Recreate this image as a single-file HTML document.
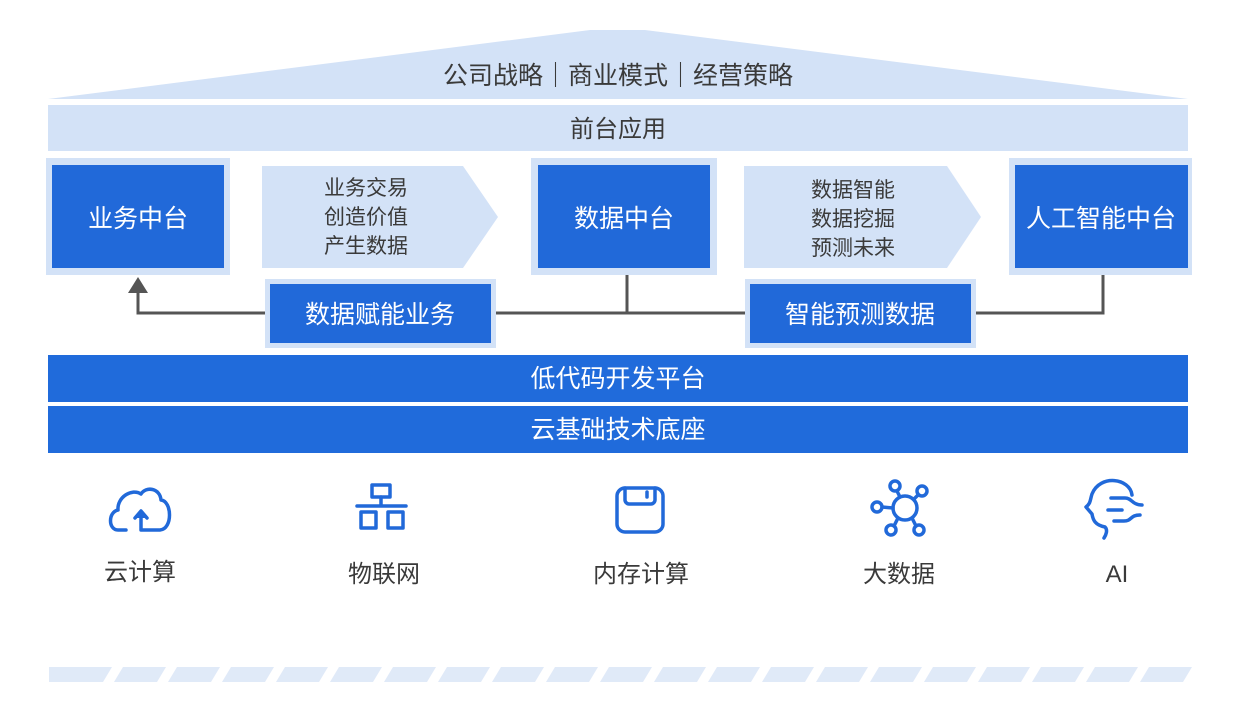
<!DOCTYPE html>
<html><head><meta charset="utf-8"><style>
html,body{margin:0;padding:0;background:#fff}
svg text{font-family:"Liberation Sans","Noto Sans CJK SC",sans-serif}
</style></head><body>
<svg width="1243" height="716" viewBox="0 0 1243 716" xmlns="http://www.w3.org/2000/svg">
<polygon points="48,99 590,30 645,30 1188,99" fill="#d3e2f7"/>
<text x="618" y="84" font-size="25" fill="#3a3a3a" text-anchor="middle">公司战略｜商业模式｜经营策略</text>
<rect x="48" y="105" width="1140" height="46" fill="#d3e2f7"/>
<text x="618" y="137" font-size="24" fill="#3a3a3a" text-anchor="middle">前台应用</text>

<g fill="#d3e2f7">
<rect x="46" y="158" width="184" height="117"/>
<rect x="531" y="158" width="186" height="117"/>
<rect x="1009" y="158" width="183" height="117"/>
<polygon points="262,166 463,166 498,217 463,268 262,268"/>
<polygon points="744,166 947,166 981,217 947,268 744,268"/>
<rect x="265" y="279" width="231" height="69"/>
<rect x="745" y="279" width="231" height="69"/>
</g>
<g fill="#2169d9">
<rect x="52" y="165" width="172" height="103"/>
<rect x="538" y="165" width="172" height="103"/>
<rect x="1015" y="165" width="173" height="103"/>
<rect x="270" y="284" width="221" height="59"/>
<rect x="750" y="284" width="221" height="59"/>
</g>
<g fill="#fff" font-size="25" text-anchor="middle">
<text x="138" y="227">业务中台</text>
<text x="624" y="227">数据中台</text>
<text x="1101" y="227">人工智能中台</text>
<text x="380" y="323">数据赋能业务</text>
<text x="860" y="323">智能预测数据</text>
</g>
<g fill="#3a3a3a" font-size="21" text-anchor="middle">
<text x="366" y="195">业务交易</text>
<text x="366" y="224">创造价值</text>
<text x="366" y="253">产生数据</text>
<text x="853" y="197">数据智能</text>
<text x="853" y="226">数据挖掘</text>
<text x="853" y="255">预测未来</text>
</g>
<g stroke="#555" stroke-width="3" fill="none">
<polyline points="138,292 138,313 265,313"/>
<line x1="496" y1="313" x2="745" y2="313"/>
<line x1="627" y1="275" x2="627" y2="313"/>
<polyline points="976,313 1103,313 1103,275"/>
</g>
<polygon points="128,293 148,293 138,277" fill="#555"/>

<rect x="48" y="355" width="1140" height="47" fill="#206bdb"/>
<rect x="48" y="406" width="1140" height="47" fill="#206bdb"/>
<text x="618" y="387" font-size="25" fill="#fff" text-anchor="middle">低代码开发平台</text>
<text x="618" y="438" font-size="25" fill="#fff" text-anchor="middle">云基础技术底座</text>

<g stroke="#2169d9" stroke-width="3.5" fill="none" stroke-linecap="round" stroke-linejoin="round">
<path d="M126,530 L118,530 C108,530 108,512 118,510 C117,497 132,488 141,494 C146,486 160,488 161,500 C172,501 173,529 160,530 L141,530 L141,514"/>
<path d="M135,518 L141,511 L147,518" fill="#2169d9"/>
<rect x="372" y="485" width="18" height="12"/>
<line x1="381" y1="497" x2="381" y2="505"/>
<line x1="357" y1="506" x2="406" y2="506"/>
<rect x="361" y="512" width="15" height="16"/>
<rect x="388" y="512" width="15" height="16"/>
<rect x="617" y="488" width="46" height="44" rx="8"/>
<path d="M625,488 L625,500 C625,502 627,504 629,504 L651,504 C653,504 655,502 655,500 L655,488"/>
<line x1="647" y1="492" x2="647" y2="497"/>
<circle cx="905" cy="508" r="12"/>
<circle cx="895" cy="486" r="5"/><circle cx="922" cy="491" r="5"/>
<circle cx="877" cy="507" r="5"/><circle cx="891" cy="530" r="5"/><circle cx="919" cy="530" r="5"/>
<line x1="897" y1="491" x2="900" y2="497"/><line x1="918" y1="495" x2="914" y2="499"/>
<line x1="882" y1="507" x2="893" y2="508"/><line x1="894" y1="526" x2="898" y2="518"/><line x1="916" y1="526" x2="912" y2="518"/>
<path d="M1132,495 C1130,478 1100,474 1092,494 C1090,500 1091,503 1086,507 L1092,514 C1093,520 1095,525 1105,527 C1108,530 1106,535 1104,538"/>
<path d="M1111,498 L1125,498 C1132,498 1132,505 1142,505"/>
<line x1="1108" y1="510" x2="1122" y2="510"/>
<path d="M1114,521 L1124,521 C1132,521 1130,515 1140,515"/>
</g>
<g fill="#3a3a3a" font-size="24" text-anchor="middle">
<text x="140" y="580">云计算</text>
<text x="384" y="582">物联网</text>
<text x="641" y="582">内存计算</text>
<text x="899" y="582">大数据</text>
<text x="1117" y="582">AI</text>
</g>
<rect x="49" y="667" width="1143" height="15" fill="#e0eaf8"/>
<g id="gaps" fill="#fff"></g>
</svg>
<script>
var g=document.getElementById('gaps'),s='';
for(var k=0;k<21;k++){var b=103+54*k;if(b>1185)break;
s+='<polygon points="'+b+',682 '+(b+11)+',682 '+(b+20)+',667 '+(b+9)+',667"/>';}
g.innerHTML=s;
</script>
</body></html>
